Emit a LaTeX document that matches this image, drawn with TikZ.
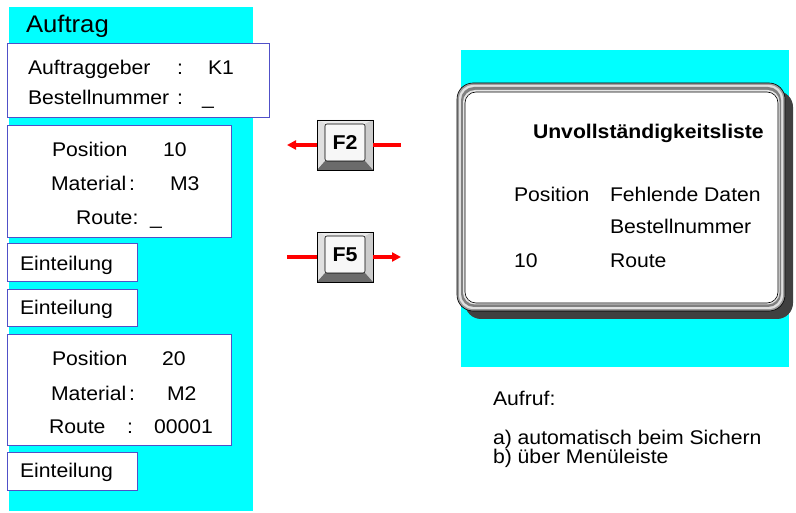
\documentclass[tikz,border=0pt]{standalone}
\usepackage{fontspec}
\setmainfont[FakeStretch=1.07]{Liberation Sans}
\usetikzlibrary{arrows.meta}
\definecolor{cyanbg}{RGB}{0,255,255}
\definecolor{boxline}{RGB}{80,80,200}
\definecolor{keyred}{RGB}{255,0,0}
\tikzset{
  every node/.style={inner sep=0pt, outer sep=0pt},
  txt/.style={anchor=base west, font=\fontsize{19.8}{23}\selectfont},
  ttl/.style={anchor=base west, font=\fontsize{24}{28}\selectfont},
  hdr/.style={anchor=base west, font=\fontsize{19.8}{23}\selectfont\bfseries},
  fbox/.style={draw=boxline, line width=0.9pt, fill=white},
  redline/.style={draw=keyred, line width=3.2pt},
  redarrow/.style={draw=keyred, line width=3.2pt, -{Triangle[length=9pt,width=9pt]}},
}
\newcommand{\keydraw}[4]{% name, x, y, label
  \begin{scope}[shift={(#2,#3)}]
    \fill[black!15] (0,0) rectangle (56,50);
    \fill[black!8] (0,0) -- (56,0) -- (48,4) -- (8,4) -- cycle;
    \fill[black!12] (0,0) -- (8,4) -- (8,41) -- (0,50) -- cycle;
    \fill[black!20] (56,0) -- (48,4) -- (48,41) -- (56,50) -- cycle;
    \fill[black!58] (0,50) -- (8,41) -- (48,41) -- (56,50) -- cycle;
    \draw[line width=0.6pt] (0,0) rectangle (56,50);
    \draw[line width=0.6pt, fill=black!3, rounded corners=2pt] (8,4) rectangle (48,41);
    \node[font=\fontsize{20}{23}\selectfont\bfseries] at (28,22.5) {#4};
    \node[minimum width=56pt, minimum height=50pt] (#1) at (28,25) {};
  \end{scope}}
\begin{document}
\begin{tikzpicture}[x=1pt, y=-1pt]
\useasboundingbox (0,0) rectangle (796,513);
\fill[white] (0,0) rectangle (796,513);
% left panel
\fill[cyanbg] (9,7) rectangle (253,511);
\node[ttl] (auftrag) at (26,33) {Auftrag};
\draw[fbox] (7,43) rectangle (269,117);
\node[txt] (agl) at (28,75) {Auftraggeber};
\node[txt] (agc) at (177,75) {:};
\node[txt] (agv) at (208,75) {K1};
\node[txt] (bnl) at (28,105) {Bestellnummer};
\node[txt] (bnc) at (177,105) {:};
\node[txt] (bnv) at (202,105) {\_};
\draw[fbox] (7,125) rectangle (231,237);
\node[txt] (p1l) at (52,157) {Position};
\node[txt] (p1v) at (163,157) {10};
\node[txt] (m1l) at (51,191) {Material};
\node[txt] (m1c) at (129,191) {:};
\node[txt] (m1v) at (170,191) {M3};
\node[txt] (r1l) at (76,225) {Route:};
\node[txt] (r1v) at (150,225) {\_};
\draw[fbox] (7,243) rectangle (137,281);
\node[txt] (e1) at (20,271) {Einteilung};
\draw[fbox] (7,289) rectangle (137,326);
\node[txt] (e2) at (20,315) {Einteilung};
\draw[fbox] (7,334) rectangle (231,445);
\node[txt] (p2l) at (52,366) {Position};
\node[txt] (p2v) at (162,366) {20};
\node[txt] (m2l) at (51,400) {Material};
\node[txt] (m2c) at (129,400) {:};
\node[txt] (m2v) at (167,400) {M2};
\node[txt] (r2l) at (49,433) {Route};
\node[txt] (r2c) at (127,433) {:};
\node[txt] (r2v) at (154,433) {00001};
\draw[fbox] (7,452) rectangle (137,490);
\node[txt] (e3) at (20,477) {Einteilung};
% keys
\keydraw{f2}{317}{120}{F2}
\keydraw{f5}{317}{232}{F5}
\coordinate (f2l) at (287,145);
\coordinate (f2r) at (401,145);
\coordinate (f5l) at (287,257);
\coordinate (f5r) at (401,257);
\draw[redarrow] (f2.west |- f2l) -- (f2l);
\draw[redline] (f2.east |- f2r) -- (f2r);
\draw[redline] (f5l) -- (f5.west |- f5l);
\draw[redarrow] (f5.east |- f5r) -- (f5r);
% right panel
\fill[cyanbg] (461,50) rectangle (789,367);
\fill[black!75, rounded corners=16pt] (465,91) rectangle (793,319);
\draw[fill=black!40, line width=0.6pt, rounded corners=16pt] (457,83) rectangle (785,311);
\fill[black!12, rounded corners=14pt] (459,85) rectangle (783,309);
\fill[black!50, rounded corners=13pt] (461,87) rectangle (781,307);
\fill[black!10, rounded corners=12pt] (463,90) rectangle (779.5,304.5);
\draw[fill=white, line width=0.6pt, rounded corners=11pt] (465,92) rectangle (778,303);
\node[hdr] (ul) at (533,139) {Unvollständigkeitsliste};
\node[txt] (hpos) at (514,202) {Position};
\node[txt] (hfd) at (610,202) {Fehlende Daten};
\node[txt] (bn2) at (610,234) {Bestellnummer};
\node[txt] (p10) at (514,268) {10};
\node[txt] (rt) at (610,268) {Route};
% Aufruf
\node[txt] (auf) at (493,405) {Aufruf:};
\node[txt] (auta) at (493,444) {a) automatisch beim Sichern};
\node[txt] (autb) at (493,463) {b) über Menüleiste};
\end{tikzpicture}
\end{document}
